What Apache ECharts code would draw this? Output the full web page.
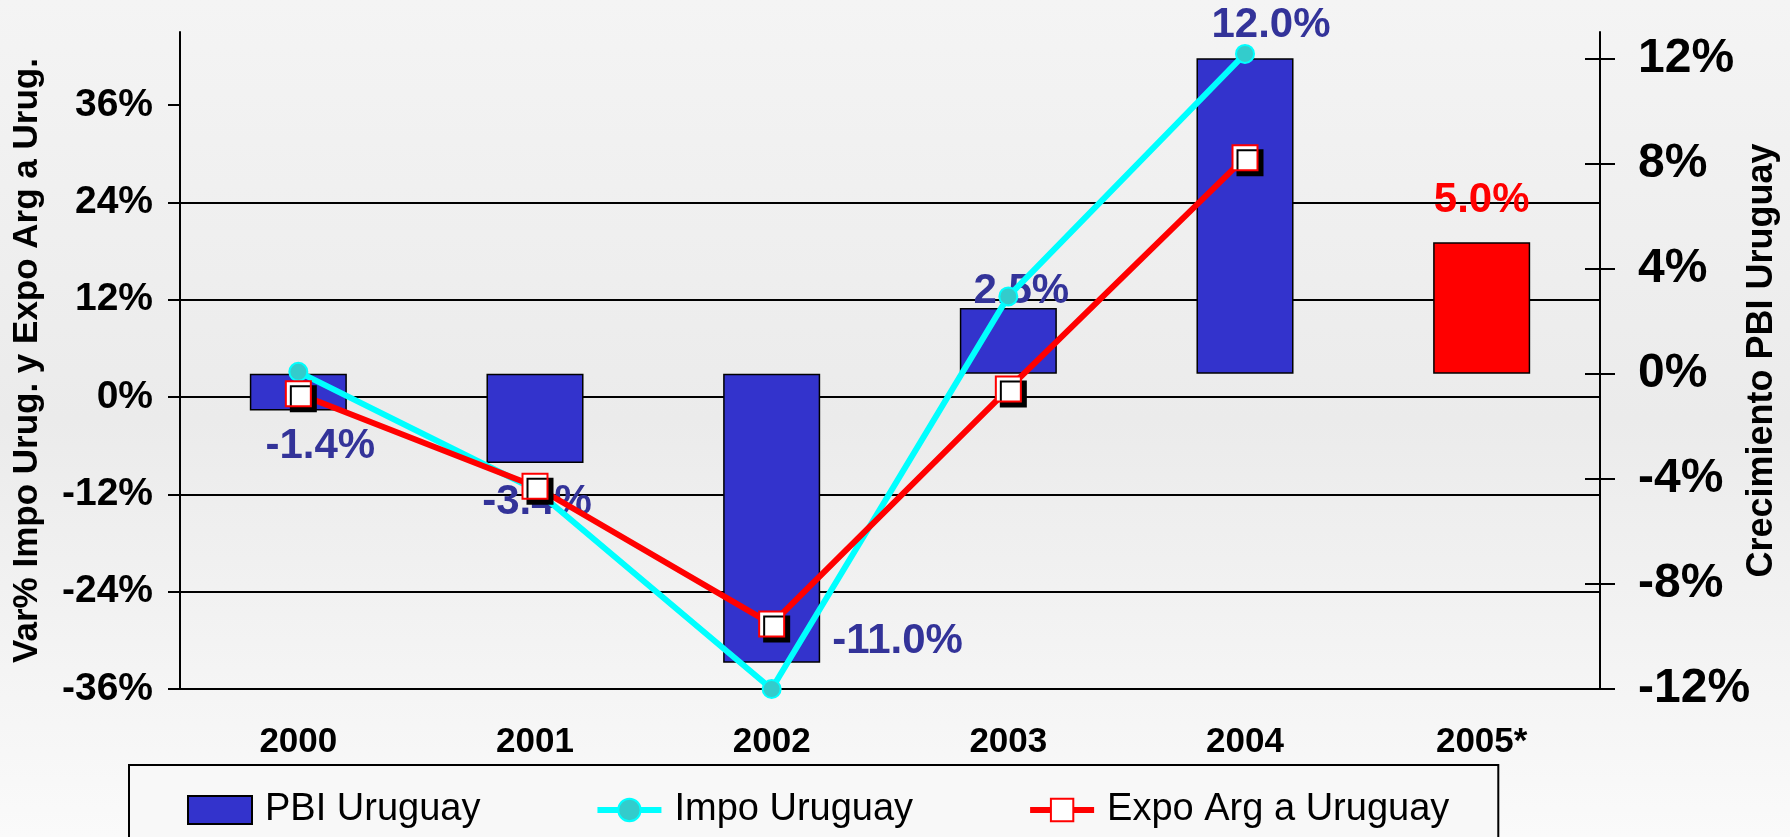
<!DOCTYPE html>
<html>
	<head>
		<meta charset="utf-8" />
		<title>PBI Uruguay</title>
		<script type="text/javascript" src="https://cdn.jsdelivr.net/npm/echarts@6.0.0/dist/echarts.min.js"></script>
		<style>
			html, body {
				margin: 0;
				padding: 0;
				background-color: #f0f0f0;
			}
			#barChart {
				width: 1790px;
				height: 837px;
			}
		</style>
	</head>
	<body>
		<div class="chart" id="barChart"></div>
		<script>
			// datos
			var categories = ['2000', '2001', '2002', '2003', '2004', '2005*'];
			var pbiUruguay = [-1.4, -3.4, -11.0, 2.5, 12.0, 5.0];
			var impoUruguay = [3.1, -11.4, -36.0, 12.4, 42.3, null];
			var expoArgUruguay = [0.4, -11.0, -28.0, 1.0, 29.5, null];
			var leftTicks = [-36, -24, -12, 0, 12, 24, 36];
			var rightTicks = [-12, -8, -4, 0, 4, 8, 12];

			var fontName = '"Liberation Sans", Arial, sans-serif';
			var labelColor = '#333399';

			// posicion de cada etiqueta de barra
			var labelPos = [
				{ position: 'bottom', offset: [22, 10] },
				{ position: 'bottom', offset: [2, 13] },
				{ position: 'right', offset: [7, 123] },
				{ position: 'top', offset: [13, 9] },
				{ position: 'top', offset: [26, -7] },
				{ position: 'top', offset: [0, -16] }
			];

			var barData = pbiUruguay.map(function(v, i) {
				var last = i == pbiUruguay.length - 1;
				var item = {
					value: v,
					label: {
						position: labelPos[i].position,
						offset: labelPos[i].offset,
						color: last ? '#FF0000' : labelColor
					}
				};
				if (last) {
					item.itemStyle = { color: '#FF0000' };
				}
				return item;
			});

			var pctFmt = function(v) {
				return v + '%';
			};

			var barChart = echarts.init(document.getElementById('barChart'));

			var option = {
				animation: false,
				backgroundColor: {
					type: 'linear', x: 0, y: 0, x2: 0, y2: 1,
					colorStops: [
						{ offset: 0, color: '#f4f4f4' },
						{ offset: 0.5, color: '#ebebeb' },
						{ offset: 1, color: '#fafafa' }
					]
				},
				textStyle: { fontFamily: fontName },
				grid: {
					left: 180,
					right: 190,
					top: 32,
					bottom: 148,
					outerBoundsMode: 'none'
				},
				legend: {
					left: 129,
					top: 765,
					padding: [26, 49, 40, 58],
					itemGap: 114,
					itemWidth: 64,
					itemHeight: 28,
					backgroundColor: '#f8f8f8',
					borderColor: '#000',
					borderWidth: 2,
					textStyle: {
						fontFamily: fontName,
						fontSize: 38,
						lineHeight: 28,
						color: '#000',
						padding: [0, 0, 0, 8]
					},
					data: [
						{ name: 'PBI Uruguay', icon: 'rect' },
						{ name: 'Impo Uruguay', lineStyle: { width: 6 } },
						{
							name: 'Expo Arg a Uruguay',
							lineStyle: { width: 6 },
							itemStyle: { shadowColor: 'rgba(0,0,0,0)', shadowOffsetX: 0, shadowOffsetY: 0 }
						}
					]
				},
				xAxis: {
					type: 'category',
					data: categories,
					axisLine: { onZero: false, lineStyle: { color: '#000', width: 2 } },
					axisTick: { show: false },
					axisLabel: {
						margin: 36,
						fontSize: 35,
						lineHeight: 35,
						fontWeight: 'bold',
						color: '#000',
						fontFamily: fontName
					}
				},
				yAxis: [{
					type: 'value',
					position: 'left',
					min: -36,
					max: 45,
					interval: 12,
					name: 'Var% Impo Urug. y Expo Arg a Urug.',
					nameLocation: 'middle',
					nameRotate: 90,
					nameGap: 135,
					nameMoveOverlap: false,
					nameTextStyle: {
						fontSize: 35,
						lineHeight: 35,
						fontWeight: 'bold',
						color: '#000',
						fontFamily: fontName
					},
					axisLine: { show: true, lineStyle: { color: '#000', width: 2 } },
					axisTick: { show: true, length: 12, customValues: leftTicks, lineStyle: { color: '#000', width: 2 } },
					axisLabel: {
						margin: 27,
						fontSize: 39,
						fontWeight: 'bold',
						color: '#000',
						fontFamily: fontName,
						customValues: leftTicks,
						formatter: pctFmt
					},
					splitLine: { show: true, showMaxLine: false, lineStyle: { color: '#000', width: 2 } }
				}, {
					type: 'value',
					position: 'right',
					min: -12,
					max: 13,
					interval: 4,
					name: 'Crecimiento PBI Uruguay',
					nameLocation: 'middle',
					nameRotate: 90,
					nameGap: 144,
					nameMoveOverlap: false,
					nameTextStyle: {
						fontSize: 36,
						lineHeight: 36,
						fontWeight: 'bold',
						color: '#000',
						fontFamily: fontName
					},
					axisLine: { show: true, lineStyle: { color: '#000', width: 2 } },
					axisTick: { show: true, length: 15, customValues: rightTicks, lineStyle: { color: '#000', width: 2 } },
					axisLabel: {
						margin: 38,
						fontSize: 48,
						fontWeight: 'bold',
						color: '#000',
						fontFamily: fontName,
						customValues: rightTicks,
						formatter: pctFmt
					},
					splitLine: { show: false }
				}, {
					// marcas hacia adentro del eje derecho
					type: 'value',
					position: 'right',
					min: -12,
					max: 13,
					interval: 4,
					axisLine: { show: false },
					axisTick: { show: true, inside: true, length: 15, customValues: rightTicks, lineStyle: { color: '#000', width: 2 } },
					axisLabel: { show: false },
					splitLine: { show: false }
				}],
				series: [{
					name: 'PBI Uruguay',
					type: 'bar',
					yAxisIndex: 1,
					barWidth: '41%',
					itemStyle: {
						color: '#3333CC',
						borderColor: '#000',
						borderWidth: 1.5
					},
					label: {
						show: true,
						distance: 5,
						fontSize: 42,
						lineHeight: 42,
						fontWeight: 'bold',
						fontFamily: fontName,
						formatter: function(p) {
							return p.value.toFixed(1) + '%';
						}
					},
					data: barData
				}, {
					name: 'Impo Uruguay',
					type: 'line',
					yAxisIndex: 0,
					symbol: 'circle',
					symbolSize: 18,
					lineStyle: { color: '#00FFFF', width: 6 },
					itemStyle: {
						color: '#33CCCC',
						borderColor: '#00FFFF',
						borderWidth: 2
					},
					data: impoUruguay
				}, {
					name: 'Expo Arg a Uruguay',
					type: 'line',
					yAxisIndex: 0,
					symbol: 'rect',
					symbolSize: 25,
					lineStyle: { color: '#FF0000', width: 6 },
					itemStyle: {
						color: '#FFFFFF',
						borderColor: '#FF0000',
						borderWidth: 2,
						shadowColor: '#000',
						shadowBlur: 0,
						shadowOffsetX: 5,
						shadowOffsetY: 5
					},
					data: expoArgUruguay
				}]
			};

			barChart.setOption(option);
		</script>
	</body>
</html>
